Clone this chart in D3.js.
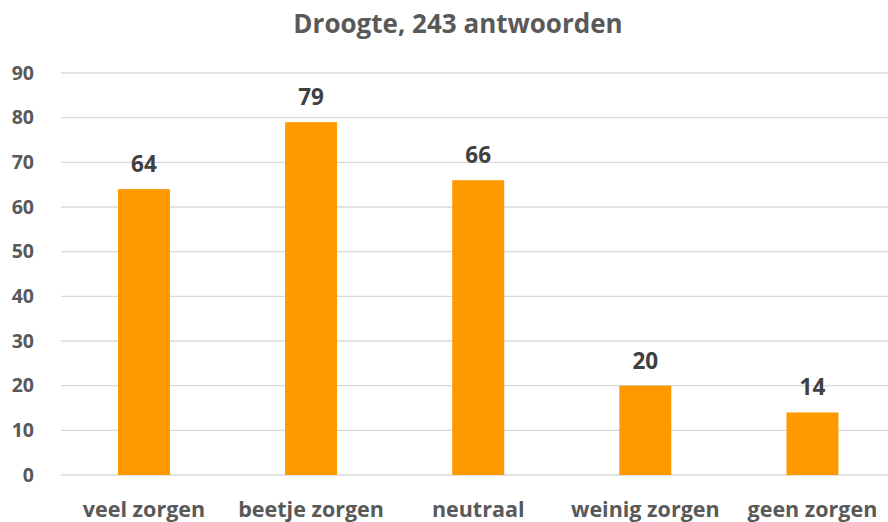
<!DOCTYPE html>
<html><head><meta charset="utf-8">
<script src="https://cdn.jsdelivr.net/npm/d3@7"></script>
<style>body{margin:0;background:#fff}svg{display:block}</style>
</head><body>
<svg id="c" width="888" height="522"></svg>
<script>
const categories = ["veel zorgen","beetje zorgen","neutraal","weinig zorgen","geen zorgen"];
const values = [64,79,66,20,14];
const yTicks = [0,10,20,30,40,50,60,70,80,90];
const title = "Droogte, 243 antwoorden";

const svg = d3.select("#c");
const font = "'Open Sans', sans-serif";
const x = d3.scaleBand().domain(categories).range([60.4, 896]).paddingInner(0.689).paddingOuter(0.3445);
const y = d3.scaleLinear().domain([0,90]).range([475,73]);

svg.append("g").selectAll("line").data(yTicks).join("line")
  .attr("x1",61).attr("x2",888)
  .attr("y1",d=>y(d)).attr("y2",d=>y(d))
  .attr("stroke","#d9d9d9").attr("stroke-width",1.3);

const yAxis = d3.axisLeft(y).tickValues(yTicks).tickSize(0).tickPadding(0);
const gy = svg.append("g").attr("transform","translate(34,0)").call(yAxis);
gy.select(".domain").remove();
gy.selectAll("text").attr("font-family",font).attr("font-weight","bold").attr("font-size",19.5).attr("fill","#595959");

const xAxis = d3.axisBottom(x).tickSize(0).tickPadding(0);
const gx = svg.append("g").attr("transform","translate(0,502)").call(xAxis);
gx.select(".domain").remove();
gx.selectAll("text").attr("font-family",font).attr("font-weight","bold").attr("font-size",21.5).attr("fill","#595959");

svg.append("g").selectAll("rect").data(values).join("rect")
  .attr("x",(d,i)=>x(categories[i])).attr("width",x.bandwidth())
  .attr("y",d=>y(d)).attr("height",d=>y(0)-y(d))
  .attr("fill","#ff9900");

svg.append("g").selectAll("text").data(values).join("text")
  .attr("x",(d,i)=>x(categories[i])+x.bandwidth()/2)
  .attr("y",d=>y(d)-17)
  .attr("text-anchor","middle")
  .attr("font-family",font).attr("font-weight","bold").attr("font-size",22.5)
  .attr("fill","#404040").text(d=>d);

svg.append("text").attr("x",458).attr("y",33).attr("text-anchor","middle")
  .attr("font-family",font).attr("font-weight","bold").attr("font-size",26)
  .attr("fill","#595959").text(title);
</script>
</body></html>
